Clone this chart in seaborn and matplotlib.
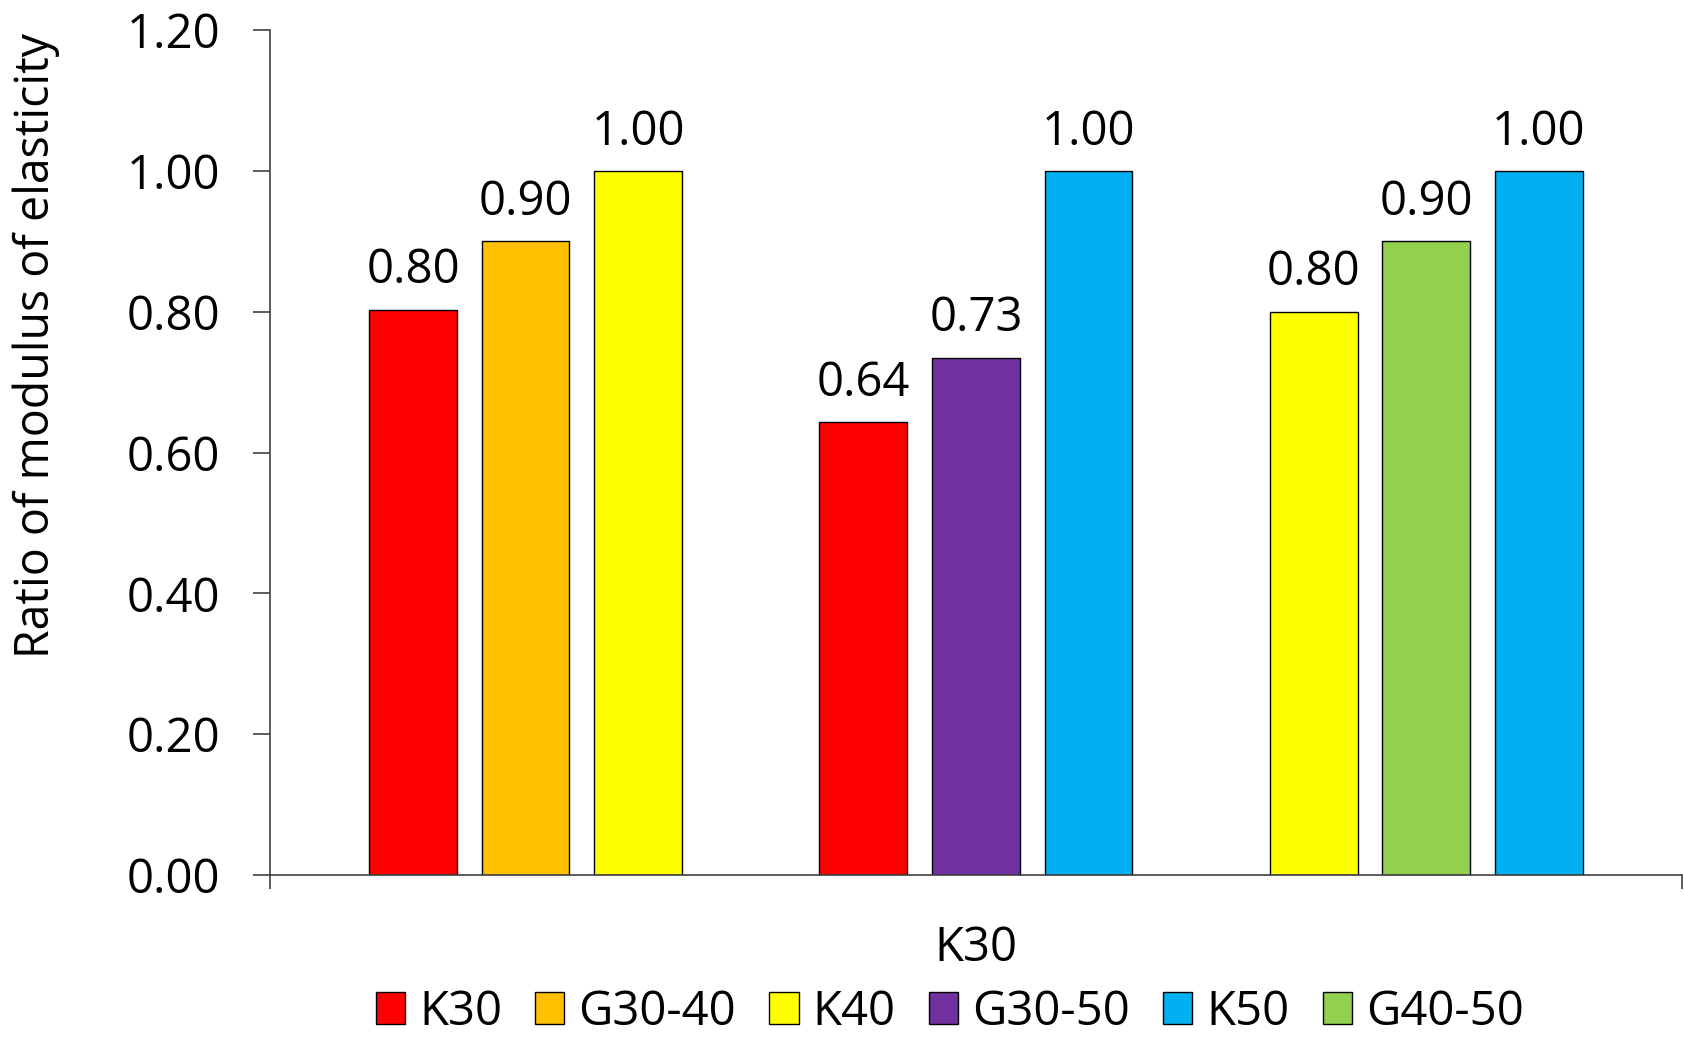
import matplotlib
matplotlib.use("Agg")
import matplotlib.pyplot as plt
import seaborn as sns
import pandas as pd
import numpy as np

# ---- data ----
series = ["K30", "G30-40", "K40", "K30", "G30-50", "K50", "K40", "G40-50", "K50"]
values = [0.803, 0.90, 1.00, 0.643, 0.735, 1.00, 0.80, 0.90, 1.00]
legend_order = ["K30", "G30-40", "K40", "G30-50", "K50", "G40-50"]
colors = ["#FF0000", "#FFC000", "#FFFF00", "#7030A0", "#00B0F0", "#92D050"]
category_label = "K30"
y_label = "Ratio of modulus of elasticity"
y_ticks = [0.0, 0.2, 0.4, 0.6, 0.8, 1.0, 1.2]

# positions: 3 groups of 3 bars, one empty slot between groups
pos = [(i // 3) * 4 + (i % 3) for i in range(len(values))]
df = pd.DataFrame({"pos": pos, "value": values, "series": series})

sns.set_style("white")
plt.rcParams["font.family"] = ["Open Sans", "DejaVu Sans"]
plt.rcParams["text.color"] = "black"
plt.rcParams["axes.labelcolor"] = "black"
plt.rcParams["xtick.labelcolor"] = "black"
plt.rcParams["ytick.labelcolor"] = "black"
FS = 34

fig = plt.figure(figsize=(16.84, 10.38), dpi=100)
ax = fig.add_axes([0.1603, 0.157, 0.8385, 0.814])

sns.barplot(data=df, x="pos", y="value", hue="series", hue_order=legend_order,
            palette=dict(zip(legend_order, colors)), native_scale=True,
            dodge=False, width=0.78, edgecolor="black", linewidth=1.0,
            saturation=1.0, legend=True, ax=ax)

for c in ax.containers:
    ax.bar_label(c, fmt="%.2f", padding=11, fontsize=FS, color="black")

ax.set_xlim(-1.27, 11.27)
ax.set_ylim(0, 1.2)
ax.set_yticks(y_ticks)
ax.set_yticklabels([f"{v:.2f}" for v in y_ticks], fontsize=FS, color="black")
ax.set_xticks([-1.27, 11.27])
ax.set_xticklabels(["", ""])

spine_c = "#404040"
for s in ["top", "right"]:
    ax.spines[s].set_visible(False)
for s in ["left", "bottom"]:
    ax.spines[s].set_color(spine_c)
    ax.spines[s].set_linewidth(1.2)
ax.tick_params(axis="y", direction="out", length=12, width=1.2, color=spine_c, pad=24, left=True)
ax.tick_params(axis="x", direction="out", length=10, width=1.2, color=spine_c, bottom=True)

ax.set_ylabel(y_label, fontsize=33.5, color="black")
ax.yaxis.set_label_coords(-0.149, 0.627)
ax.set_xlabel(category_label, fontsize=FS, color="black")
ax.xaxis.set_label_coords(0.5, -0.058)

handles, labels = ax.get_legend_handles_labels()
ax.get_legend().remove()
fig.legend(handles, labels, loc="center", bbox_to_anchor=(0.564, 0.025), ncol=6,
           frameon=False, fontsize=FS, handlelength=0.62, handleheight=0.65,
           handletextpad=0.3, columnspacing=0.7, borderaxespad=0, borderpad=0,
           labelcolor="black")

fig.savefig("out.png", dpi=100)
